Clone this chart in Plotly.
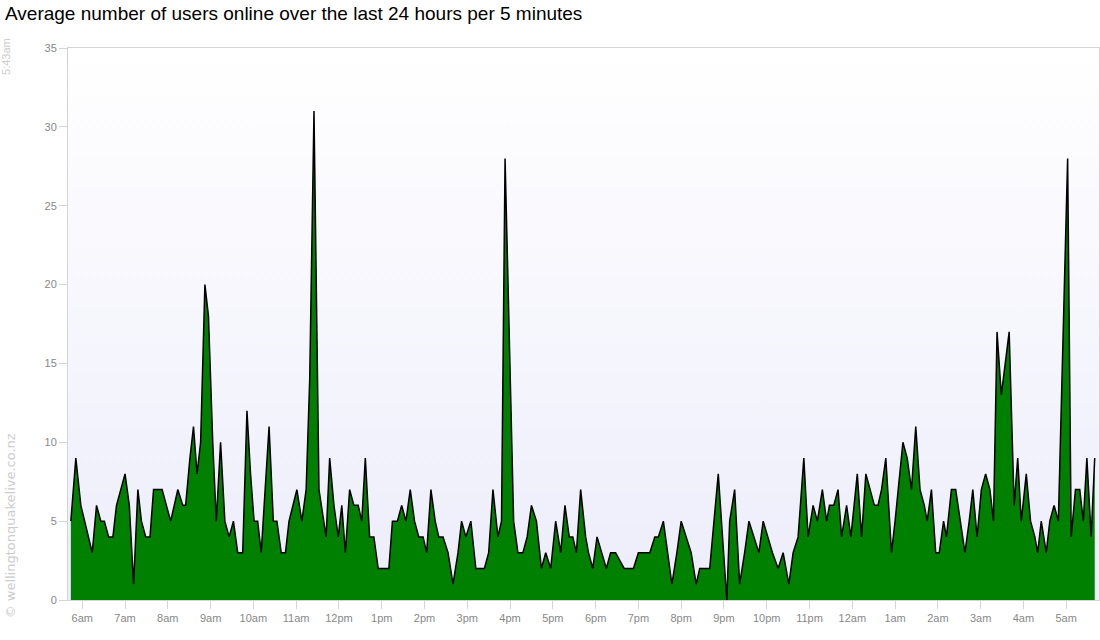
import pandas as pd
import plotly.graph_objects as go

# readings: minutes after 6:00am (first day) and average users online
minutes_after_6am = [
    -16, -9, -2, 3, 9, 14, 20, 26, 31, 37, 43, 48, 54, 60, 66, 72, 78, 83, 89, 95,
    100, 106, 112, 118, 124, 129, 134, 141, 145, 151, 156, 161, 166, 172, 177, 183, 188, 194, 200, 206,
    212, 218, 225, 231, 236, 241, 246, 251, 257, 262, 268, 273, 279, 285, 290, 296, 301, 308, 314, 319,
    325, 332, 338, 342, 347, 353, 359, 364, 369, 375, 381, 387, 392, 397, 403, 409, 415, 421, 425, 430,
    435, 442, 448, 454, 460, 466, 472, 478, 483, 489, 495, 500, 506, 513, 520, 527, 532, 538, 545, 552,
    557, 564, 570, 576, 583, 588, 593, 605, 611, 618, 624, 630, 637, 644, 650, 657, 664, 671, 677, 683,
    688, 693, 699, 706, 710, 716, 722, 728, 735, 741, 748, 760, 766, 773, 780, 787, 792, 796, 803, 808,
    815, 821, 827, 834, 840, 847, 854, 861, 866, 874, 880, 886, 892, 904, 908, 915, 922, 929, 935, 942,
    949, 955, 961, 968, 976, 983, 991, 997, 1004, 1012, 1018, 1025, 1031, 1038, 1044, 1048, 1054, 1060, 1065, 1072,
    1078, 1087, 1093, 1099, 1105, 1111, 1116, 1121, 1127, 1135, 1140, 1146, 1151, 1157, 1163, 1169, 1175, 1181, 1185, 1191,
    1197, 1202, 1208, 1212, 1219, 1225, 1231, 1238, 1244, 1249, 1255, 1261, 1267, 1273, 1278, 1283, 1289, 1294, 1300, 1307,
    1312, 1317, 1324, 1330, 1336, 1340, 1345, 1352, 1357, 1363, 1369, 1382, 1387, 1393, 1399, 1404, 1409, 1415, 1420,
]
users = [
    5, 9, 6, 5, 4, 3, 6, 5, 5, 4, 4, 6, 7, 8, 6, 1, 7, 5, 4, 4,
    7, 7, 7, 6, 5, 6, 7, 6, 6, 9, 11, 8, 10, 20, 18, 10, 5, 10, 5, 4,
    5, 3, 3, 12, 8, 5, 5, 3, 7, 11, 5, 5, 3, 3, 5, 6, 7, 5, 7, 14,
    31, 7, 5, 4, 9, 6, 4, 6, 3, 7, 6, 6, 5, 9, 4, 4, 2, 2, 2, 2,
    5, 5, 6, 5, 7, 5, 4, 4, 3, 7, 5, 4, 4, 3, 1, 3, 5, 4, 5, 2,
    2, 2, 3, 7, 4, 5, 28, 5, 3, 3, 4, 6, 5, 2, 3, 2, 5, 3, 6, 4,
    4, 3, 7, 4, 3, 2, 4, 3, 2, 3, 3, 2, 2, 2, 3, 3, 3, 3, 4, 4,
    5, 3, 1, 3, 5, 4, 3, 1, 2, 2, 2, 5, 8, 0, 5, 7, 1, 3, 5, 4,
    3, 5, 4, 3, 2, 3, 1, 3, 4, 9, 4, 6, 5, 7, 5, 6, 6, 7, 4, 6,
    4, 8, 4, 8, 7, 6, 6, 7, 9, 3, 5, 8, 10, 9, 7, 11, 7, 6, 5, 7,
    3, 3, 5, 4, 7, 7, 5, 3, 5, 7, 4, 7, 8, 7, 5, 17, 13, 15, 17, 6,
    9, 5, 8, 5, 4, 3, 5, 3, 5, 6, 5, 28, 4, 7, 7, 5, 9, 4, 9,
]
hour_labels = [
    "6am", "7am", "8am", "9am", "10am", "11am", "12pm", "1pm", "2pm", "3pm", "4pm", "5pm",
    "6pm", "7pm", "8pm", "9pm", "10pm", "11pm", "12am", "1am", "2am", "3am", "4am", "5am",
]
y_ticks = [0, 5, 10, 15, 20, 25, 30, 35]

base = pd.Timestamp("2011-09-20 06:00")
times = base + pd.to_timedelta(minutes_after_6am, unit="min")
hour_ticks = [base + pd.Timedelta(hours=h) for h in range(len(hour_labels))]
x_start = base - pd.Timedelta(minutes=20)
x_end = x_start + pd.Timedelta(minutes=1446)

font = "Liberation Sans, Arial, sans-serif"

fig = go.Figure()

# plot background: white at the top fading to pale lavender at the bottom
fig.add_trace(go.Scatter(
    x=[x_start, x_end, x_end, x_start, x_start],
    y=[0, 0, 35, 35, 0],
    mode="none",
    fill="toself",
    fillgradient=dict(type="vertical", colorscale=[[0, "#ededfb"], [1, "#ffffff"]]),
    hoverinfo="skip",
    showlegend=False,
))

fig.add_trace(go.Scatter(
    x=times,
    y=users,
    mode="lines",
    line=dict(color="black", width=1.5),
    fill="tozeroy",
    fillcolor="#008000",
    showlegend=False,
))

axis_common = dict(
    showgrid=False,
    zeroline=False,
    showline=True,
    linecolor="#d4d4d4",
    linewidth=1,
    mirror=True,
    ticks="outside",
    ticklen=8,
    tickcolor="#d4d4d4",
    tickfont=dict(family=font, size=11, color="#888888"),
)

fig.update_xaxes(
    range=[x_start, x_end],
    tickmode="array",
    tickvals=hour_ticks,
    ticktext=hour_labels,
    **axis_common,
)
fig.update_yaxes(
    range=[0, 35],
    tickmode="array",
    tickvals=y_ticks,
    **axis_common,
)

# vertical side notes, left of the y axis
fig.add_annotation(
    text="5:43am", textangle=-90, xref="paper", yref="paper",
    x=-0.060, y=0.984, showarrow=False, xanchor="center", yanchor="middle",
    font=dict(family=font, size=11, color="#cccccc"),
)
fig.add_annotation(
    text="© wellingtonquakelive.co.nz", textangle=-90, xref="paper", yref="paper",
    x=-0.0645, y=-0.036, showarrow=False, xanchor="left", yanchor="bottom",
    borderpad=0,
    font=dict(family="DejaVu Sans, sans-serif", size=13, color="#cccccc"),
)

fig.update_layout(
    width=1100,
    height=640,
    margin=dict(l=68, r=1, t=48, b=40),
    paper_bgcolor="white",
    plot_bgcolor="white",
    title=dict(
        text="Average number of users online over the last 24 hours per 5 minutes",
        x=5 / 1100, xanchor="left", y=1 - 13 / 640, yanchor="middle",
        font=dict(family=font, size=19, color="black"),
    ),
)

# drop the default page margin so the figure sits at the window's top-left corner
fig.write_html(
    "out.html",
    config={"displayModeBar": False},
    post_script="document.body.style.margin = '0';",
)
